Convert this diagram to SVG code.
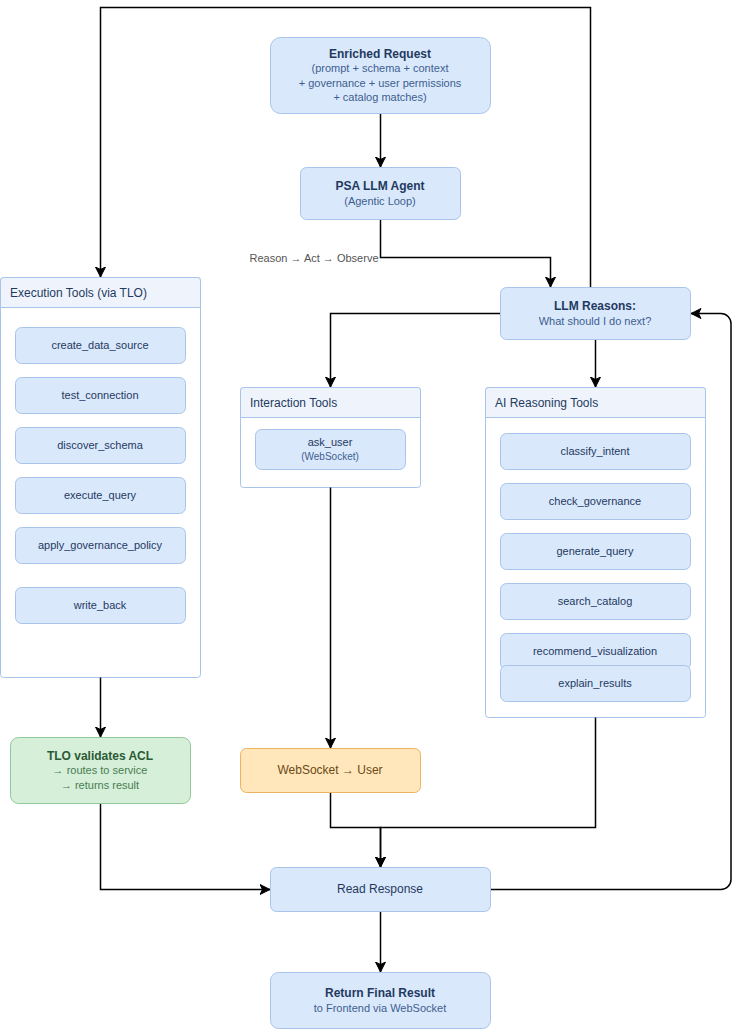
<svg xmlns="http://www.w3.org/2000/svg" width="740" height="1030" viewBox="0 0 740 1030">
<style>
text{font-family:"Liberation Sans",Arial,sans-serif;text-anchor:middle}
.b{fill:#dae8fc;stroke:#a9c4eb;stroke-width:1}
.c{fill:#fff;stroke:#a9c4eb;stroke-width:1}
.h{fill:#eff4fc;stroke:#a9c4eb;stroke-width:1}
.t{font-size:12px;font-weight:bold;fill:#1f3a5f}
.s{font-size:11px;fill:#3d5f8f}
.n{font-size:11px;fill:#1f3a5f}
.m{font-size:12px;fill:#1f3a5f}
.ht{font-size:12px;fill:#1f3a5f;text-anchor:start}
.e{fill:none;stroke:#000;stroke-width:1.5}
</style>
<defs>
<marker id="a" markerUnits="userSpaceOnUse" markerWidth="12" markerHeight="12" refX="10.5" refY="5.5" orient="auto">
<path d="M0.5 0.5L10.5 5.5L0.5 10.5L3 5.5Z" fill="#000" stroke="#000"/>
</marker>
</defs>
<rect width="740" height="1030" fill="#fff"/>
<g id="execution-tools">
<rect class="c" x="0.5" y="277.5" width="200" height="400" rx="3"/>
<path class="h" d="M0.5 307.5V280.5a3 3 0 0 1 3-3H197.5a3 3 0 0 1 3 3V307.5Z"/>
<text class="ht" x="10" y="297">Execution Tools (via TLO)</text>
</g>
<g id="create_data_source"><rect class="b" x="15.5" y="327.5" width="170" height="36" rx="6"/><text class="n" x="100" y="349">create_data_source</text></g>
<g id="test_connection"><rect class="b" x="15.5" y="377.5" width="170" height="36" rx="6"/><text class="n" x="100" y="399">test_connection</text></g>
<g id="discover_schema"><rect class="b" x="15.5" y="427.5" width="170" height="36" rx="6"/><text class="n" x="100" y="449">discover_schema</text></g>
<g id="execute_query"><rect class="b" x="15.5" y="477.5" width="170" height="36" rx="6"/><text class="n" x="100" y="499">execute_query</text></g>
<g id="apply_governance_policy"><rect class="b" x="15.5" y="527.5" width="170" height="36" rx="6"/><text class="n" x="100" y="549">apply_governance_policy</text></g>
<g id="write_back"><rect class="b" x="15.5" y="587.5" width="170" height="36" rx="6"/><text class="n" x="100" y="609">write_back</text></g>
<g id="interaction-tools">
<rect class="c" x="240.5" y="387.5" width="180" height="100" rx="3"/>
<path class="h" d="M240.5 417.5V390.5a3 3 0 0 1 3-3H417.5a3 3 0 0 1 3 3V417.5Z"/>
<text class="ht" x="250" y="407">Interaction Tools</text>
</g>
<g id="ask_user"><rect class="b" x="255.5" y="429.5" width="150" height="40" rx="6"/><text class="n" x="330" y="446">ask_user</text><text x="330" y="460" font-size="10" fill="#3d5f8f">(WebSocket)</text></g>
<g id="ai-reasoning-tools">
<rect class="c" x="485.5" y="387.5" width="220" height="330" rx="3"/>
<path class="h" d="M485.5 417.5V390.5a3 3 0 0 1 3-3H702.5a3 3 0 0 1 3 3V417.5Z"/>
<text class="ht" x="495" y="407">AI Reasoning Tools</text>
</g>
<g id="classify_intent"><rect class="b" x="500.5" y="433.5" width="190" height="36" rx="6"/><text class="n" x="595" y="455">classify_intent</text></g>
<g id="check_governance"><rect class="b" x="500.5" y="483.5" width="190" height="36" rx="6"/><text class="n" x="595" y="505">check_governance</text></g>
<g id="generate_query"><rect class="b" x="500.5" y="533.5" width="190" height="36" rx="6"/><text class="n" x="595" y="555">generate_query</text></g>
<g id="search_catalog"><rect class="b" x="500.5" y="583.5" width="190" height="36" rx="6"/><text class="n" x="595" y="605">search_catalog</text></g>
<g id="recommend_visualization"><rect class="b" x="500.5" y="633.5" width="190" height="36" rx="6"/><text class="n" x="595" y="655">recommend_visualization</text></g>
<g id="explain_results"><rect class="b" x="500.5" y="665.5" width="190" height="36" rx="6"/><text class="n" x="595" y="687">explain_results</text></g>
<g id="connectors">
<path class="e" marker-end="url(#a)" d="M380.5 113.5V167"/>
<path class="e" marker-end="url(#a)" d="M380.5 219.5V257.5H550.5V287"/>
<path class="e" marker-end="url(#a)" d="M590.5 287.5V7.5H100.5V277"/>
<path class="e" marker-end="url(#a)" d="M500.5 313.5H330.5V387"/>
<path class="e" marker-end="url(#a)" d="M595.5 339.5V387"/>
<path class="e" marker-end="url(#a)" d="M330.5 487.5V748"/>
<path class="e" marker-end="url(#a)" d="M100.5 677.5V737"/>
<path class="e" marker-end="url(#a)" d="M100.5 803.5V889.5H270"/>
<path class="e" marker-end="url(#a)" d="M330.5 792.5V827.5H380.5V867"/>
<path class="e" marker-end="url(#a)" d="M595.5 717.5V827.5H380.5V867"/>
<path class="e" marker-end="url(#a)" d="M490.5 889.5H721a10 10 0 0 0 10-10V323.5a10 10 0 0 0-10-10H691"/>
<path class="e" marker-end="url(#a)" d="M380.5 911.5V972"/>
<text x="314" y="262" font-size="11" fill="#555">Reason → Act → Observe</text>
</g>
<g id="enriched-request"><rect class="b" x="270.5" y="37.5" width="220" height="76" rx="10"/><text class="t" x="380" y="58">Enriched Request</text><text class="s" x="380" y="72">(prompt + schema + context</text><text class="s" x="380" y="87">+ governance + user permissions</text><text class="s" x="380" y="101">+ catalog matches)</text></g>
<g id="psa-llm-agent"><rect class="b" x="300.5" y="167.5" width="160" height="52" rx="6"/><text class="t" x="380" y="190">PSA LLM Agent</text><text class="s" x="380" y="205">(Agentic Loop)</text></g>
<g id="llm-reasons"><rect class="b" x="500.5" y="287.5" width="190" height="52" rx="6"/><text class="t" x="595" y="310">LLM Reasons:</text><text class="s" x="595" y="325">What should I do next?</text></g>
<g id="tlo-validates"><rect fill="#d5efd9" stroke="#93c99a" x="10.5" y="737.5" width="180" height="66" rx="8"/><text x="100" y="760" font-size="12" font-weight="bold" fill="#2c5a35">TLO validates ACL</text><text x="100" y="774" font-size="11" fill="#4a7c52">→ routes to service</text><text x="100" y="789" font-size="11" fill="#4a7c52">→ returns result</text></g>
<g id="websocket-user"><rect fill="#ffe6bb" stroke="#eeb35f" x="240.5" y="748.5" width="180" height="44" rx="6"/><text x="330" y="774" font-size="12" fill="#6b4a16">WebSocket → User</text></g>
<g id="read-response"><rect class="b" x="270.5" y="867.5" width="220" height="44" rx="6"/><text class="m" x="380" y="893">Read Response</text></g>
<g id="return-final"><rect class="b" x="270.5" y="972.5" width="220" height="56" rx="8"/><text class="t" x="380" y="997">Return Final Result</text><text class="s" x="380" y="1012">to Frontend via WebSocket</text></g>
</svg>
